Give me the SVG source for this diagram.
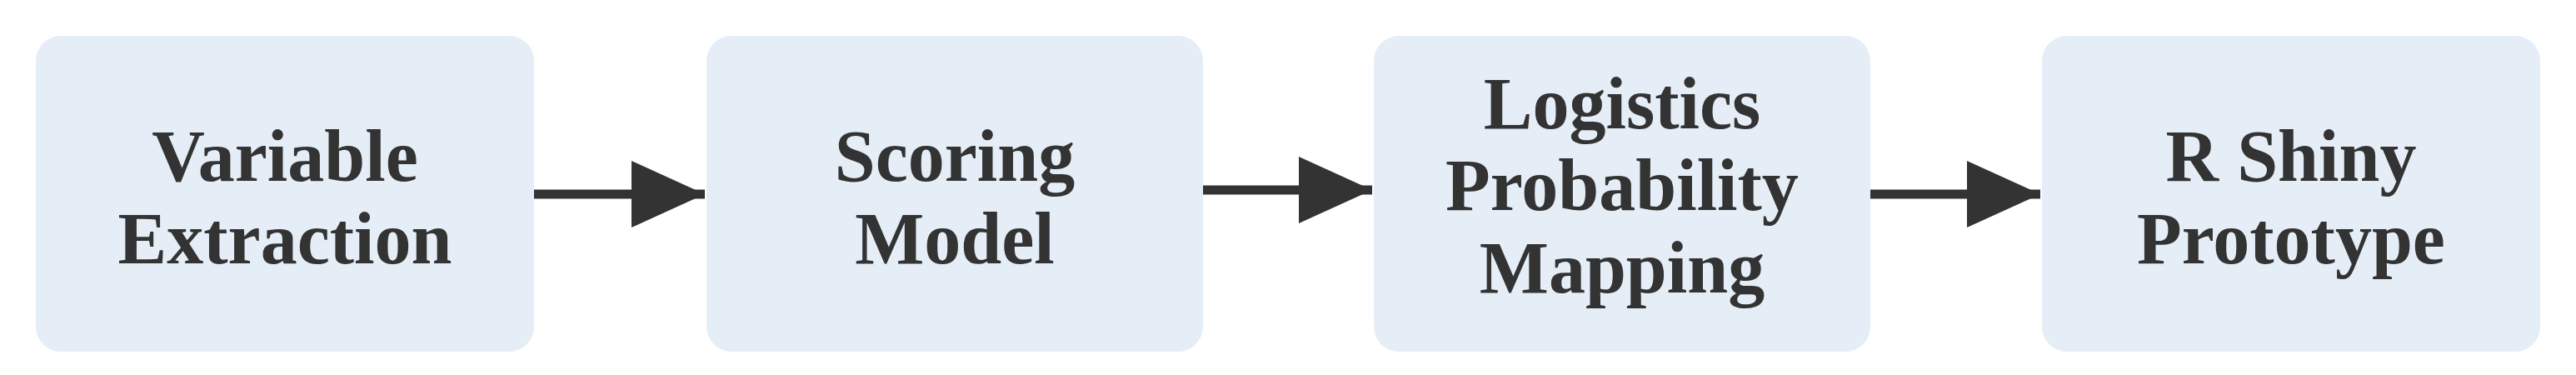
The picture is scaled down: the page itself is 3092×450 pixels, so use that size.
<svg xmlns="http://www.w3.org/2000/svg" width="3092" height="450" viewBox="0 0 3092 450">
<style>
.box{fill:#e5eef7}
.t{font-family:"Liberation Serif",serif;font-weight:bold;font-size:88px;fill:#333;text-anchor:middle}
.c{stroke:#333;stroke-width:11;fill:none}
</style>
<defs><marker id="ah" markerUnits="userSpaceOnUse" markerWidth="90" markerHeight="80" refX="88" refY="40" orient="auto"><path d="M0,0 L88,40 L0,80 Z" fill="#333"/></marker></defs>
<rect width="3092" height="450" fill="#fff"/>
<g id="n1"><rect class="box" x="43" y="43" width="598" height="379" rx="30"/><text class="t" x="342" y="217">Variable</text><text class="t" x="342" y="316">Extraction</text></g>
<g id="n2"><rect class="box" x="848" y="43" width="596" height="379" rx="30"/><text class="t" x="1146" y="217">Scoring</text><text class="t" x="1146" y="316">Model</text></g>
<g id="n3"><rect class="box" x="1649" y="43" width="596" height="379" rx="30"/><text class="t" x="1947" y="154">Logistics</text><text class="t" x="1947" y="252">Probability</text><text class="t" x="1947" y="351">Mapping</text></g>
<g id="n4"><rect class="box" x="2451" y="43" width="598" height="379" rx="30"/><text class="t" x="2750" y="217">R Shiny</text><text class="t" x="2750" y="316">Prototype</text></g>
<g id="connectors">
<line class="c" x1="641" y1="233" x2="846" y2="233" marker-end="url(#ah)"/>
<line class="c" x1="1444" y1="228" x2="1647" y2="228" marker-end="url(#ah)"/>
<line class="c" x1="2245" y1="233" x2="2449" y2="233" marker-end="url(#ah)"/>
</g>
</svg>
